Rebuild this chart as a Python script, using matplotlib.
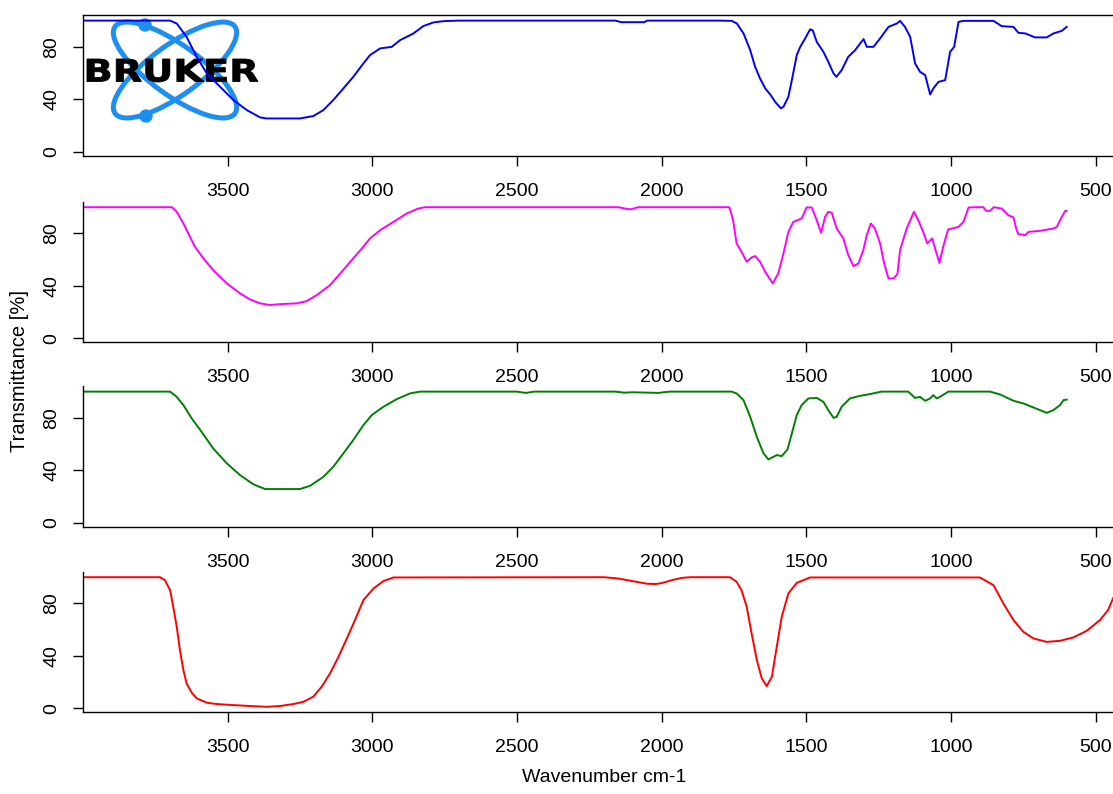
import matplotlib
matplotlib.use("Agg")
import matplotlib.pyplot as plt
from matplotlib.patches import Ellipse, Circle, PathPatch
from matplotlib.textpath import TextPath
from matplotlib.font_manager import FontProperties
from matplotlib.transforms import Affine2D

plt.rcParams['font.family'] = ['Liberation Sans', 'DejaVu Sans']

# FT-IR spectra, wavenumber (cm-1) vs transmittance (%)
wn_1 = [4000, 3750, 3699, 3676, 3642, 3607, 3572, 3526, 3480, 3434, 3388, 3365, 3300,
        3250, 3204, 3169, 3135, 3100, 3066, 3031, 3008, 2973, 2933, 2904, 2858, 2824,
        2789, 2754, 2700, 2160, 2140, 2060, 2050, 1800, 1758, 1740, 1717, 1694, 1677,
        1660, 1642, 1623, 1608, 1588, 1579, 1562, 1550, 1533, 1521, 1504, 1487, 1478,
        1464, 1441, 1424, 1406, 1396, 1378, 1355, 1331, 1314, 1302, 1291, 1268, 1245,
        1216, 1187, 1176, 1159, 1141, 1124, 1107, 1089, 1072, 1061, 1043, 1020, 1003,
        989, 974, 957, 853, 825, 784, 767, 743, 709, 669, 646, 617, 600]
tr_1 = [100, 100, 100, 97.8, 87.6, 72.4, 59.7, 49.5, 39.4, 31.8, 26.2, 25.4, 25.4,
        25.4, 27.2, 31.8, 39.4, 48.3, 57.1, 67.3, 73.7, 78.8, 80, 85.1, 90.2, 95.8,
        98.6, 99.6, 100, 100, 98.8, 98.8, 100, 100, 99.8, 97.8, 90.2, 77.5, 64.8,
        55.9, 48.3, 43.2, 38.1, 33.1, 34.3, 41.9, 54.6, 73.7, 80, 86.4, 93.3, 92.7,
        83.8, 76.2, 68.6, 59.7, 57.1, 62.2, 72.4, 77.5, 82.6, 85.9, 80, 80, 86.4,
        95.2, 97.8, 99.8, 95.2, 87.6, 67.3, 61, 58.4, 43.7, 48.3, 53.3, 54.6, 76.2,
        80, 99, 99.8, 99.8, 95.8, 95.2, 90.7, 90.2, 87.2, 87.2, 90.2, 92.2, 95.2]

wn_2 = [4000, 3750, 3693, 3676, 3653, 3636, 3613, 3584, 3550, 3503, 3457, 3423, 3388,
        3354, 3319, 3261, 3227, 3192, 3146, 3106, 3071, 3036, 3008, 2973, 2927, 2881,
        2841, 2818, 2150, 2115, 2105, 2080, 1766, 1753, 1741, 1724, 1706, 1689, 1677,
        1660, 1642, 1616, 1597, 1579, 1562, 1545, 1516, 1499, 1481, 1464, 1449, 1435,
        1424, 1412, 1395, 1372, 1355, 1337, 1320, 1303, 1291, 1277, 1263, 1245, 1231,
        1216, 1199, 1185, 1176, 1153, 1128, 1113, 1096, 1082, 1065, 1055, 1040, 1027,
        1010, 974, 957, 939, 911, 888, 879, 865, 852, 825, 802, 784, 773, 767, 743,
        732, 692, 646, 634, 617, 605, 600]
tr_2 = [100, 100, 100, 96.5, 87.6, 80, 69.8, 61, 52, 41.9, 34.3, 29.7, 26.7,
        25.4, 26.1, 26.7, 28.4, 33, 40.6, 50.7, 59.7, 68.6, 76.2, 82.5, 88.8, 95.2,
        99, 100, 100, 98.5, 98.5, 100, 100, 90.1, 72.4, 66, 58.4, 61.7, 62.7,
        58.4, 50.7, 41.9, 49.5, 64.8, 81.2, 88.8, 91.4, 99.8, 99.8, 90.1, 80.5, 92.6,
        96.5, 95.7, 83.8, 76.2, 63.5, 55.1, 57.1, 67.3, 78.7, 87.6, 83.8, 72.4, 57.1,
        45.7, 45.7, 49, 67.3, 83.8, 96.5, 90.1, 81.2, 72.4, 76.2, 68.6, 57.6, 69.8,
        83, 85, 88.8, 99.8, 100, 100, 97.2, 97.2, 100, 99, 93.9, 92.2, 82.5, 79.5, 78.7,
        81.2, 82, 83.8, 85, 92.6, 97.2, 97.2]

wn_3 = [4000, 3750, 3699, 3676, 3653, 3624, 3590, 3550, 3503, 3457, 3411, 3371, 3250,
        3215, 3169, 3135, 3100, 3066, 3031, 3002, 2962, 2916, 2870, 2835, 2500, 2470,
        2440, 2160, 2130, 2100, 2010, 1990, 1970, 1758, 1740, 1717, 1694, 1671, 1648,
        1631, 1602, 1585, 1565, 1550, 1533, 1516, 1493, 1464, 1441, 1424, 1406, 1395,
        1378, 1349, 1314, 1280, 1240, 1148, 1124, 1107, 1089, 1072, 1061, 1049, 1038,
        1009, 865, 830, 784, 750, 715, 669, 646, 623, 611, 600]
tr_3 = [100, 100, 100, 96, 89.7, 79.5, 69.3, 56.7, 45.3, 36.3, 29.3, 25.7, 25.7,
        28.2, 35, 42.7, 52.9, 63, 74.4, 82.1, 88.4, 94.2, 98.6, 100, 100, 99,
        100, 100, 99.2, 99.5, 99, 99.6, 100, 100, 98.5, 93.5, 80.8, 65.5, 52.9,
        48.3, 51.6, 50.8, 55.9, 68.1, 82.1, 89.7, 94.8, 95.2, 92.2, 85.9, 80, 80.8,
        88.4, 94.8, 96.8, 98.1, 100, 100, 95.2, 96, 93, 94.8, 97.3, 94.8, 96,
        100, 100, 97.8, 93, 91, 87.9, 83.8, 85.9, 89.7, 93.5, 93.9]

wn_4 = [4000, 3734, 3717, 3699, 3688, 3676, 3665, 3653, 3642, 3624, 3607, 3572, 3538,
        3481, 3423, 3365, 3319, 3273, 3238, 3204, 3175, 3146, 3117, 3088, 3060, 3031,
        2996, 2962, 2927, 2200, 2150, 2100, 2050, 2020, 2000, 1960, 1930, 1900, 1764,
        1741, 1724, 1706, 1689, 1671, 1654, 1637, 1619, 1604, 1585, 1562, 1533, 1487,
        900, 853, 819, 784, 750, 715, 669, 623, 577, 531, 485, 457, 440]
tr_4 = [100, 100, 97.8, 90.1, 77.4, 62.2, 44.4, 29.2, 19, 11.9, 7.6, 4.3, 3.3,
        2.5, 1.8, 1.2, 1.8, 3.3, 5, 8.9, 16.5, 26.7, 39.3, 53.3, 67.3, 82.5,
        91.4, 97, 99.8, 100, 99, 97, 95, 94.8, 95.5, 98, 99.5, 100, 100,
        96.5, 90.1, 77.4, 57.1, 36.8, 22.9, 17, 24.1, 44.4, 69.8, 87.6, 95.7, 99.8,
        99.8, 93.9, 80, 67.3, 58.4, 53.3, 50.7, 51.5, 54.1, 59.1, 67.3, 74.9, 83.8]

spectra = [(wn_1, tr_1, '#0000ff'), (wn_2, tr_2, '#ff00ff'),
           (wn_3, tr_3, '#008000'), (wn_4, tr_4, '#ff0000')]
xticks = [3500, 3000, 2500, 2000, 1500, 1000, 500]
yticks = [0, 40, 80]

W, H = 1113, 794
fig = plt.figure(figsize=(W / 100, H / 100), dpi=100)

# pixel-unit canvas behind the panels, used for the logo
bg = fig.add_axes([0, 0, 1, 1], zorder=0)
bg.set_xlim(0, W)
bg.set_ylim(H, 0)
bg.axis('off')

logo_blue = '#1e8ff0'
for ang in (36, -36):
    bg.add_patch(Ellipse((175, 70), 148, 50, angle=ang, fill=False,
                         ec=logo_blue, lw=3.6))
bg.add_patch(Circle((145, 25), 6, color=logo_blue))
bg.add_patch(Circle((146, 116), 6, color=logo_blue))

tp = TextPath((0, 0), "BRUKER", size=10,
              prop=FontProperties(family='DejaVu Sans', weight='bold'))
ext = tp.get_extents()
tr = (Affine2D().translate(-ext.x0, -ext.y0)
      .scale((258 - 87) / ext.width, -(82 - 59) / ext.height)
      .translate(87, 82))
bg.add_patch(PathPatch(tr.transform_path(tp), fc='black', ec='black', lw=0.6))

left = 83
panel_h = 140.6
bottoms = [155.7, 342.3, 526.7, 712.3]

for i, (wn, t, col) in enumerate(spectra):
    ax = fig.add_axes([left / W, 1 - bottoms[i] / H, 1 - left / W, panel_h / H],
                      zorder=1)
    ax.patch.set_visible(False)
    ax.plot(wn, t, color=col, lw=1.4)
    ax.set_xlim(4000, 440)
    ax.set_ylim(-3, 104.2)
    ax.spines['right'].set_visible(False)
    ax.spines['top'].set_visible(i == 0)
    for s in ax.spines.values():
        s.set_linewidth(1.0)
    ax.set_xticks(xticks)
    ax.set_yticks(yticks)
    ax.tick_params(axis='x', length=7.5, width=1.0, pad=12, labelsize=14)
    ax.tick_params(axis='y', length=7.5, width=1.0, pad=9, labelsize=14,
                   labelrotation=90)
    for lab in ax.get_yticklabels():
        lab.set_va('center')

fig.text(20 / W, 1 - 371 / H, 'Transmittance [%]', rotation=90,
         ha='center', va='center', fontsize=14.5)
fig.text(604 / W, 1 - 778 / H, 'Wavenumber cm-1', ha='center', va='center',
         fontsize=14)

fig.savefig('out.png', dpi=100)
